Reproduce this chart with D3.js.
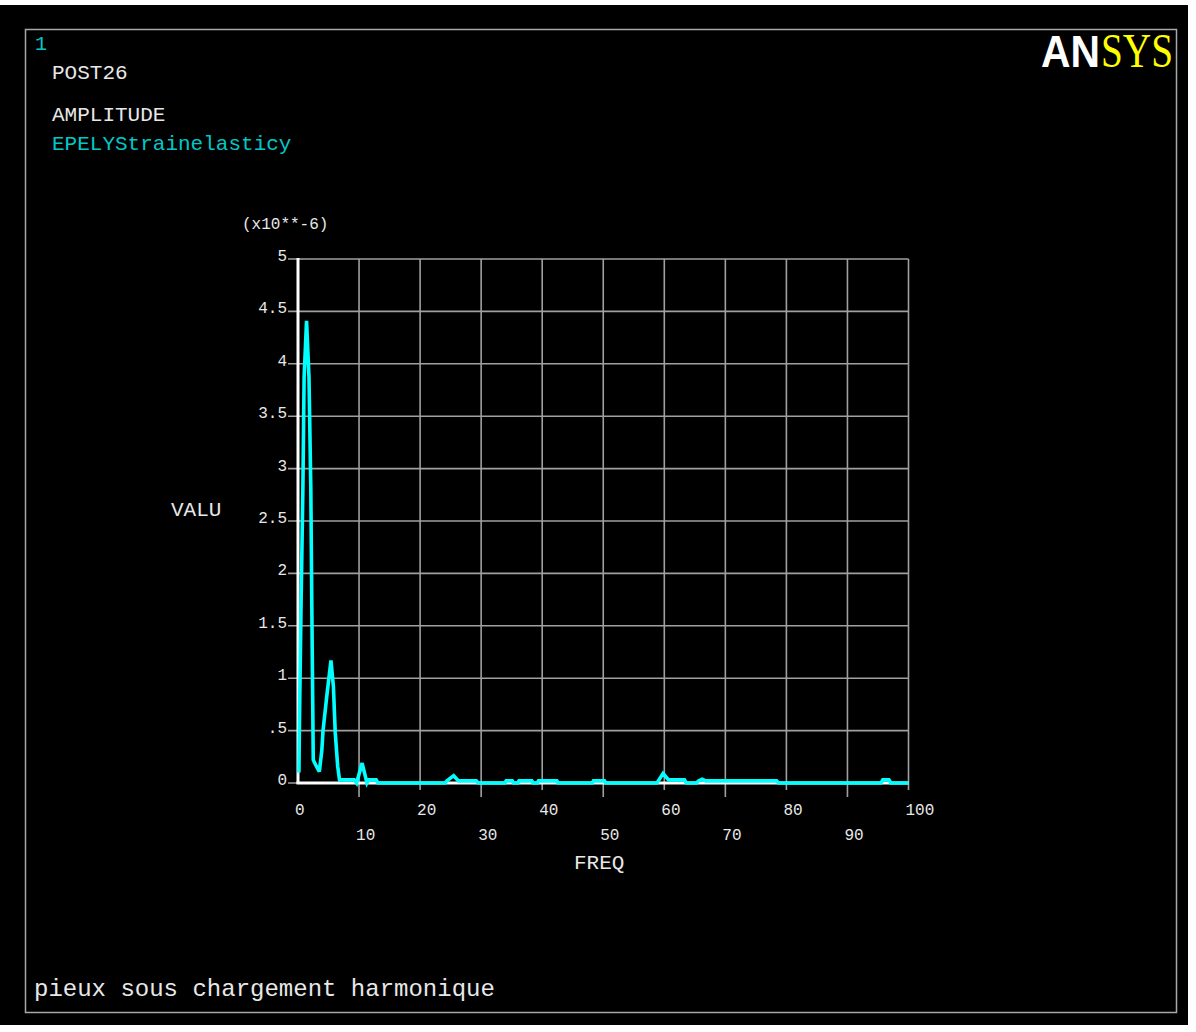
<!DOCTYPE html>
<html>
<head>
<meta charset="utf-8">
<script src="https://cdn.jsdelivr.net/npm/d3@7"></script>
<style>
  html, body { margin: 0; padding: 0; background: #ffffff; }
  svg { display: block; }
  text { font-family: "Liberation Mono", "DejaVu Sans Mono", monospace; }
</style>
</head>
<body>
<svg id="chart" width="1196" height="1032"></svg>
<script>
// Harmonic response of the pile: amplitude of EPELY vs frequency (values in 1e-6)
const freq = [0.15, 0.25, 0.5, 0.8, 1.0, 1.4, 1.8, 2.1, 2.25, 2.5, 3.0, 3.5, 3.9, 4.1, 4.7, 5.4, 5.8, 6.1, 6.5, 6.8,
  9.2, 9.6, 10.5, 11.3, 11.6, 12.8, 13.1,
  24.1, 24.4, 25.5, 26.3, 29.2, 29.5,
  33.9, 34.1, 35.1, 35.3,
  36.0, 36.2, 38.3, 38.5,
  39.2, 39.4, 42.4, 42.6,
  48.2, 48.4, 50.2, 50.4,
  58.8, 59.8, 60.7, 63.3, 63.6,
  65.3, 65.6, 66.2, 66.8, 78.4, 78.7,
  95.5, 95.8, 96.8, 97.1,
  100];
const amplitude = [0.10, 0.63, 1.70, 2.81, 3.87, 4.41, 3.87, 2.81, 1.77, 0.22, 0.16, 0.11, 0.31, 0.50, 0.82, 1.17, 0.92, 0.48, 0.16, 0.03,
  0.03, 0.0, 0.19, 0.0, 0.03, 0.03, 0.0,
  0.0, 0.02, 0.07, 0.02, 0.02, 0.0,
  0.0, 0.02, 0.02, 0.0,
  0.0, 0.02, 0.02, 0.0,
  0.0, 0.02, 0.02, 0.0,
  0.0, 0.02, 0.02, 0.0,
  0.0, 0.09, 0.03, 0.03, 0.0,
  0.0, 0.02, 0.035, 0.02, 0.02, 0.0,
  0.0, 0.03, 0.03, 0.0,
  0.0];

const xTicks = [0, 10, 20, 30, 40, 50, 60, 70, 80, 90, 100];
const xTickLabels = ["0", "10", "20", "30", "40", "50", "60", "70", "80", "90", "100"];
const yTicks = [0, 0.5, 1, 1.5, 2, 2.5, 3, 3.5, 4, 4.5, 5];
const yTickLabels = ["0", ".5", "1", "1.5", "2", "2.5", "3", "3.5", "4", "4.5", "5"];

const headerLines = ["POST26", "AMPLITUDE", "EPELYStrainelasticy"];
const windowNumber = "1";
const xTitle = "FREQ";
const yTitle = "VALU";
const yMultiplier = "(x10**-6)";
const plotTitle = "pieux sous chargement harmonique";

const svg = d3.select("#chart");

// window background and frame
svg.append("rect").attr("x", 0).attr("y", 5).attr("width", 1188).attr("height", 1020).attr("fill", "#000");
svg.append("rect").attr("x", 25.5).attr("y", 29.5).attr("width", 1151).attr("height", 983)
  .attr("fill", "none").attr("stroke", "#a8a8a8").attr("stroke-width", 1.5);

const x = d3.scaleLinear().domain([0, 100]).range([298, 908.5]);
const y = d3.scaleLinear().domain([0, 5]).range([783, 259]);

const grid = svg.append("g").attr("stroke", "#a0a0a0").attr("stroke-width", 1.6);

// horizontal grid lines, with a short stub left of the axis
grid.selectAll("line.h").data(yTicks).join("line")
  .attr("x1", 288).attr("x2", x(100))
  .attr("y1", d => y(d)).attr("y2", d => y(d));

// vertical grid lines, odd decades reach a little lower
grid.selectAll("line.v").data(xTicks.slice(1)).join("line")
  .attr("x1", d => x(d)).attr("x2", d => x(d))
  .attr("y1", y(5))
  .attr("y2", (d, i) => (i % 2 === 0 ? 797 : 790));

// white axes
svg.append("line").attr("x1", x(0)).attr("x2", x(0)).attr("y1", y(5) - 1).attr("y2", y(0) + 1)
  .attr("stroke", "#fff").attr("stroke-width", 3);
svg.append("line").attr("x1", x(0) - 1.5).attr("x2", x(100)).attr("y1", y(0)).attr("y2", y(0))
  .attr("stroke", "#fff").attr("stroke-width", 3);

// tick labels
svg.append("g").selectAll("text").data(yTicks).join("text")
  .attr("x", 287).attr("y", d => y(d) + 2)
  .attr("text-anchor", "end")
  .attr("font-size", 16).attr("fill", "#e8e8e8")
  .text((d, i) => yTickLabels[i]);

svg.append("g").selectAll("text").data(xTicks).join("text")
  .attr("x", d => x(d) - 3)
  .attr("y", (d, i) => (i % 2 === 0 ? 815 : 840))
  .attr("font-size", 16).attr("fill", "#e8e8e8")
  .text((d, i) => xTickLabels[i]);

// response curve
const pts = freq.map((f, i) => [f, amplitude[i]]);
svg.append("path").datum(pts)
  .attr("d", d3.line().x(d => x(d[0])).y(d => y(d[1])))
  .attr("fill", "none").attr("stroke", "#00ffff").attr("stroke-width", 3.6)
  .attr("stroke-linejoin", "miter").attr("stroke-miterlimit", 3);

// axis titles
svg.append("text").attr("x", 242).attr("y", 229).attr("font-size", 16).attr("fill", "#e8e8e8").text(yMultiplier);
svg.append("text").attr("x", 171).attr("y", 516).attr("font-size", 21).attr("fill", "#e8e8e8").text(yTitle);
svg.append("text").attr("x", 574).attr("y", 869).attr("font-size", 21).attr("fill", "#e8e8e8").text(xTitle);

// header block
svg.append("text").attr("x", 35).attr("y", 50).attr("font-size", 20).attr("fill", "#00c8c8").text(windowNumber);
svg.append("text").attr("x", 52).attr("y", 79).attr("font-size", 21).attr("fill", "#e8e8e8").text(headerLines[0]);
svg.append("text").attr("x", 52).attr("y", 121).attr("font-size", 21).attr("fill", "#e8e8e8").text(headerLines[1]);
svg.append("text").attr("x", 52).attr("y", 150).attr("font-size", 21).attr("fill", "#00c8c8").text(headerLines[2]);

// plot title
svg.append("text").attr("x", 34).attr("y", 996).attr("font-size", 24).attr("fill", "#e8e8e8").text(plotTitle);

// logo
const logo = svg.append("text").attr("y", 67);
logo.append("tspan").attr("x", 1041).attr("font-family", "Liberation Sans, Arial, sans-serif")
  .attr("font-weight", "bold").attr("font-size", 45).attr("fill", "#fff")
  .attr("textLength", 59).attr("lengthAdjust", "spacingAndGlyphs").text("AN");
logo.append("tspan").attr("x", 1101).attr("font-family", "Liberation Serif, Times New Roman, serif")
  .attr("font-size", 48).attr("fill", "#ffff00")
  .attr("textLength", 72).attr("lengthAdjust", "spacingAndGlyphs").text("SYS");
</script>
</body>
</html>
